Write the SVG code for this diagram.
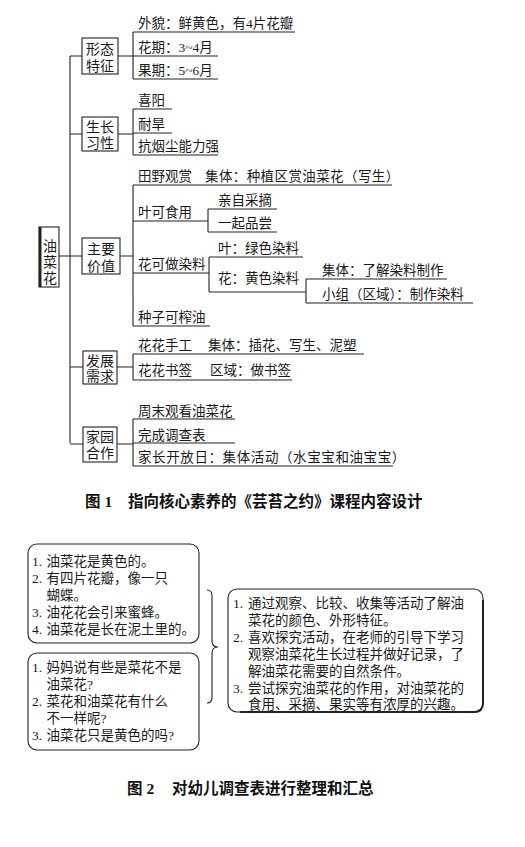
<svg xmlns="http://www.w3.org/2000/svg" width="525" height="847" viewBox="0 0 525 847">
<style>
.t{font-family:"Liberation Serif","Noto Sans CJK SC",serif;font-size:13.5px;fill:#1a1a1a}
.n{font-family:"Liberation Serif","Noto Sans CJK SC",serif;font-size:14px;fill:#1a1a1a;text-anchor:middle}
.cap{font-family:"Liberation Serif","Noto Sans CJK SC",sans-serif;font-size:15.5px;font-weight:bold;fill:#111}
.ln{stroke:#222;stroke-width:1.1;fill:none}
.bx{stroke:#222;stroke-width:1.1;fill:#fff}
</style>
<rect width="525" height="847" fill="#fff"/>
<g id="connectors" class="ln">
<path d="M70,56V443M59,256H70M70,56H82M70,134H82M70,256H82M70,367H83M70,444H83"/>
<path d="M118,56H133M118,134H133M120,256H133M117,367H133M117,444H133"/>
<path d="M133,32V79M133,32H295M133,56H218M133,79H218"/>
<path d="M133,109V155M133,109H172M133,133H172M133,155H218"/>
<path d="M133,185V326M133,185H392M133,221H208M133,273H209M133,326H210"/>
<path d="M208,209V232M208,209H277M208,232H277"/>
<path d="M209,257V292M209,257H303M209,292H306"/>
<path d="M306,279V303M306,279H447M306,303H473"/>
<path d="M133,354V380M133,354H364M133,380H292"/>
<path d="M133,419V466M133,419H235M133,443H235M133,466H393"/>
<path d="M207,590Q212,590 212,596V641Q212,647 218,647Q212,647 212,653V697Q212,703 207,703"/>
</g>
<g id="root">
<rect class="bx" x="39" y="227" width="20" height="60"/>
<line x1="40.2" y1="227" x2="40.2" y2="287" stroke="#222" stroke-width="2.6"/>
<text class="n" x="50" y="251">油</text>
<text class="n" x="50" y="267">菜</text>
<text class="n" x="50" y="283">花</text>
</g>
<g id="n1"><rect class="bx" x="82" y="38" width="36" height="36"/><text class="n" x="100" y="54">形态</text><text class="n" x="100" y="71">特征</text></g>
<g id="n2"><rect class="bx" x="82" y="117" width="36" height="34"/><text class="n" x="100" y="132">生长</text><text class="n" x="100" y="148">习性</text></g>
<g id="n3"><rect class="bx" x="82" y="238" width="38" height="36"/><text class="n" x="101" y="254">主要</text><text class="n" x="101" y="271">价值</text></g>
<g id="n4"><rect class="bx" x="83" y="351" width="34" height="33"/><text class="n" x="100" y="366">发展</text><text class="n" x="100" y="381">需求</text></g>
<g id="n5"><rect class="bx" x="83" y="427" width="34" height="35"/><text class="n" x="100" y="442">家园</text><text class="n" x="100" y="458">合作</text></g>
<g id="leaves">
<text class="t" x="138" y="28">外貌：鲜黄色，有4片花瓣</text>
<text class="t" x="138" y="52">花期：3~4月</text>
<text class="t" x="138" y="75">果期：5~6月</text>
<text class="t" x="138" y="105">喜阳</text>
<text class="t" x="138" y="129">耐旱</text>
<text class="t" x="138" y="151">抗烟尘能力强</text>
<text class="t" x="138" y="181">田野观赏<tspan x="205" letter-spacing="0.4">集体：种植区赏油菜花（写生）</tspan></text>
<text class="t" x="138" y="217">叶可食用</text>
<text class="t" x="218" y="205">亲自采摘</text>
<text class="t" x="218" y="228">一起品尝</text>
<text class="t" x="138" y="269">花可做染料</text>
<text class="t" x="218" y="253">叶：绿色染料</text>
<text class="t" x="218" y="283">花：黄色染料</text>
<text class="t" x="322" y="275">集体：了解染料制作</text>
<text class="t" x="322" y="299">小组（区域）：制作染料</text>
<text class="t" x="138" y="322">种子可榨油</text>
<text class="t" x="138" y="350">花花手工<tspan x="208">集体：插花、写生、泥塑</tspan></text>
<text class="t" x="138" y="375">花花书签<tspan x="210">区域：做书签</tspan></text>
<text class="t" x="138" y="416">周末观看油菜花</text>
<text class="t" x="138" y="440">完成调查表</text>
<text class="t" x="138" y="462" letter-spacing="0.6">家长开放日：集体活动（水宝宝和油宝宝）</text>
</g>
<text class="cap" x="85" y="507">图 1<tspan x="128">指向核心素养的《芸苔之约》课程内容设计</tspan></text>
<g id="box1">
<rect class="bx" x="28" y="544" width="171" height="99" rx="9"/>
<text class="t" x="32" y="566">1.<tspan x="46.5">油菜花是黄色的。</tspan></text>
<text class="t" x="32" y="583">2.<tspan x="46.5">有四片花瓣，像一只</tspan></text>
<text class="t" x="46.5" y="600">蝴蝶。</text>
<text class="t" x="32" y="617">3.<tspan x="46.5">油花花会引来蜜蜂。</tspan></text>
<text class="t" x="32" y="634">4.<tspan x="46.5">油菜花是长在泥土里的。</tspan></text>
</g>
<g id="box2">
<rect class="bx" x="28" y="653" width="171" height="97" rx="9"/>
<text class="t" x="32" y="672">1.<tspan x="46.5">妈妈说有些是菜花不是</tspan></text>
<text class="t" x="46.5" y="689">油菜花?</text>
<text class="t" x="32" y="706">2.<tspan x="46.5">菜花和油菜花有什么</tspan></text>
<text class="t" x="46.5" y="723">不一样呢?</text>
<text class="t" x="32" y="740">3.<tspan x="46.5">油菜花只是黄色的吗?</tspan></text>
</g>
<g id="box3">
<rect class="bx" x="228" y="589" width="255" height="123" rx="9"/>
<path d="M483,600V703Q483,712 474,712H240" stroke="#222" stroke-width="2" fill="none"/>
<text class="t" x="233" y="608">1.<tspan x="248">通过观察、比较、收集等活动了解油</tspan></text>
<text class="t" x="248" y="625">菜花的颜色、外形特征。</text>
<text class="t" x="233" y="642">2.<tspan x="248">喜欢探究活动，在老师的引导下学习</tspan></text>
<text class="t" x="248" y="659">观察油菜花生长过程并做好记录，了</text>
<text class="t" x="248" y="676">解油菜花需要的自然条件。</text>
<text class="t" x="233" y="693">3.<tspan x="248">尝试探究油菜花的作用，对油菜花的</tspan></text>
<text class="t" x="248" y="709">食用、采摘、果实等有浓厚的兴趣。</text>
</g>
<text class="cap" x="127" y="794">图 2<tspan x="172">对幼儿调查表进行整理和汇总</tspan></text>
</svg>
